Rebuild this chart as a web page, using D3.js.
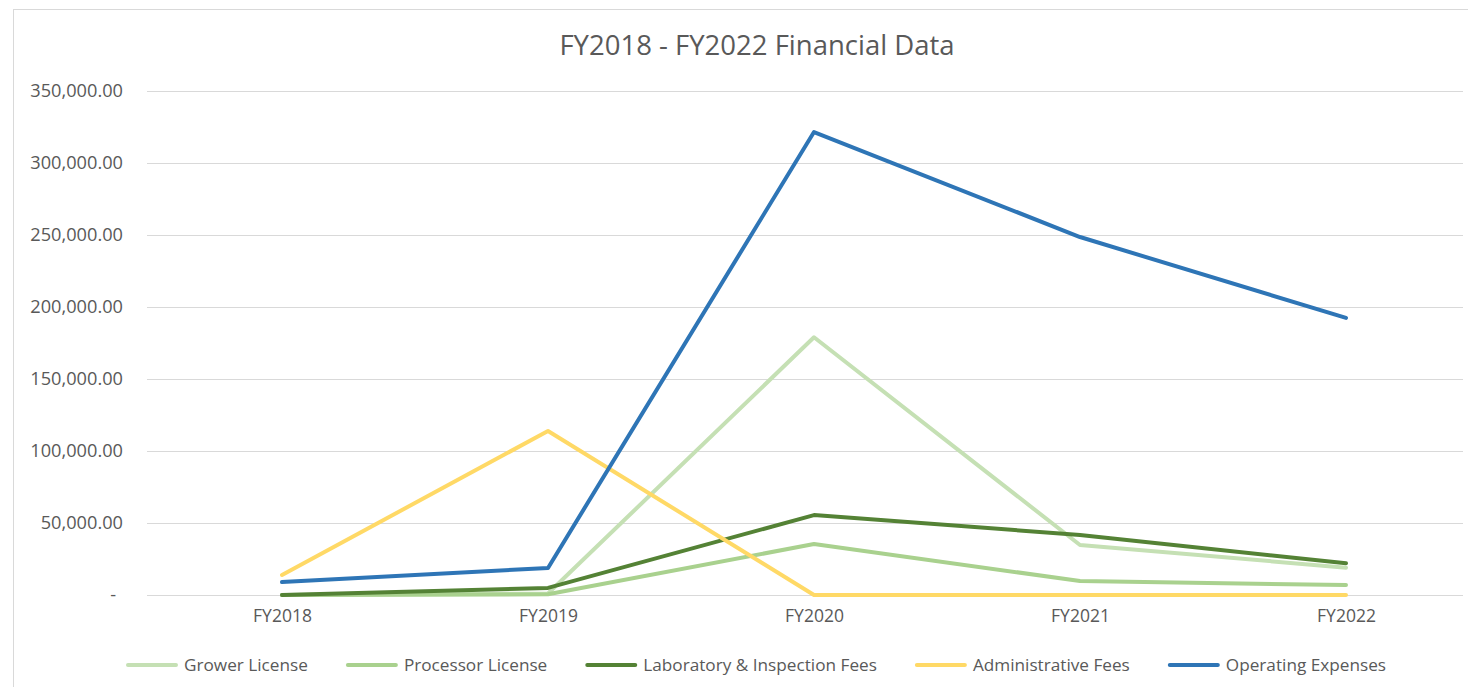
<!DOCTYPE html>
<html>
<head>
<meta charset="utf-8">
<script src="https://cdn.jsdelivr.net/npm/d3@7"></script>
<style>
  body { margin: 0; background: #fff; }
  svg { font-family: "Open Sans", "Liberation Sans", sans-serif; }
</style>
</head>
<body>
<svg id="chart"></svg>
<script>
const years = ["FY2018", "FY2019", "FY2020", "FY2021", "FY2022"];
const yTicks = [0, 50000, 100000, 150000, 200000, 250000, 300000, 350000];

const seriesNames = ["Grower License", "Processor License", "Laboratory & Inspection Fees", "Administrative Fees", "Operating Expenses"];
const seriesColors = ["#c5e0b4", "#a9d18e", "#548235", "#ffd966", "#2e75b6"];

const growerLicense = [0, 1000, 179000, 34700, 19000];
const processorLicense = [0, 500, 35400, 9700, 6900];
const labFees = [0, 4900, 55500, 41700, 22000];
const adminFees = [13900, 113900, 0, 0, 0];
const operatingExpenses = [9000, 18800, 321500, 248600, 192400];

const seriesValues = [growerLicense, processorLicense, labFees, adminFees, operatingExpenses];

const width = 1468;
const height = 687;
const plotLeft = 147;
const plotRight = 1463;
const plotTop = 91;
const plotBottom = 595;

const svg = d3.select("#chart")
    .attr("width", width)
    .attr("height", height);

// chart frame (right and bottom edges fall outside the picture)
svg.append("rect")
    .attr("x", 13.5)
    .attr("y", 9.5)
    .attr("width", 1480)
    .attr("height", 700)
    .attr("fill", "none")
    .attr("stroke", "#d9d9d9");

const x = d3.scalePoint()
    .domain(years)
    .range([282, 1346]);

const y = d3.scaleLinear()
    .domain([0, 350000])
    .range([plotBottom, plotTop]);

const fmt = d3.format(",.2f");

// y axis with gridlines
svg.append("g")
    .attr("transform", `translate(${plotLeft},0)`)
    .call(d3.axisLeft(y).tickValues(yTicks).tickSize(0).tickPadding(24)
        .tickFormat(d => d === 0 ? "-" : fmt(d)))
    .call(g => g.select(".domain").remove())
    .call(g => g.selectAll(".tick line").clone()
        .attr("x2", plotRight - plotLeft)
        .attr("stroke", "#d9d9d9")
        .attr("stroke-width", 1))
    .call(g => g.selectAll(".tick text")
        .attr("fill", "#595959")
        .attr("font-family", "Open Sans")
        .attr("font-size", 18.2)
        .attr("dx", d => d === 0 ? -7 : 0));

// x axis labels
svg.append("g")
    .attr("transform", `translate(0,${plotBottom})`)
    .call(d3.axisBottom(x).tickSize(0).tickPadding(15))
    .call(g => g.select(".domain").remove())
    .call(g => g.selectAll(".tick text")
        .attr("fill", "#595959")
        .attr("font-family", "Open Sans")
        .attr("font-size", 17.5));

const line = d3.line()
    .x((d, i) => x(years[i]))
    .y(d => y(d));

svg.append("g")
    .selectAll("path")
    .data(seriesValues)
    .join("path")
    .attr("fill", "none")
    .attr("stroke", (d, i) => seriesColors[i])
    .attr("stroke-width", 4)
    .attr("stroke-linejoin", "round")
    .attr("stroke-linecap", "round")
    .attr("d", d => line(d));

// title
svg.append("text")
    .attr("x", 757)
    .attr("y", 55)
    .attr("text-anchor", "middle")
    .attr("fill", "#595959")
    .attr("font-size", 27.5)
    .text("FY2018 - FY2022 Financial Data");

// legend
const legend = svg.append("g").attr("transform", "translate(0,665)");
const items = legend.selectAll("g")
    .data(seriesNames)
    .join("g");

items.append("line")
    .attr("x1", 0).attr("x2", 48)
    .attr("stroke", (d, i) => seriesColors[i])
    .attr("stroke-width", 4)
    .attr("stroke-linecap", "round");

items.append("text")
    .attr("x", 56)
    .attr("dy", "0.35em")
    .attr("fill", "#595959")
    .attr("font-size", 17.2)
    .text(d => d);

const gap = 40;
const widths = [];
items.each(function() { widths.push(56 + d3.select(this).select("text").node().getComputedTextLength()); });
const total = d3.sum(widths) + gap * (widths.length - 1);
let pos = 757 - total / 2;
items.attr("transform", (d, i) => {
    const t = `translate(${pos},0)`;
    pos += widths[i] + gap;
    return t;
});
</script>
</body>
</html>
